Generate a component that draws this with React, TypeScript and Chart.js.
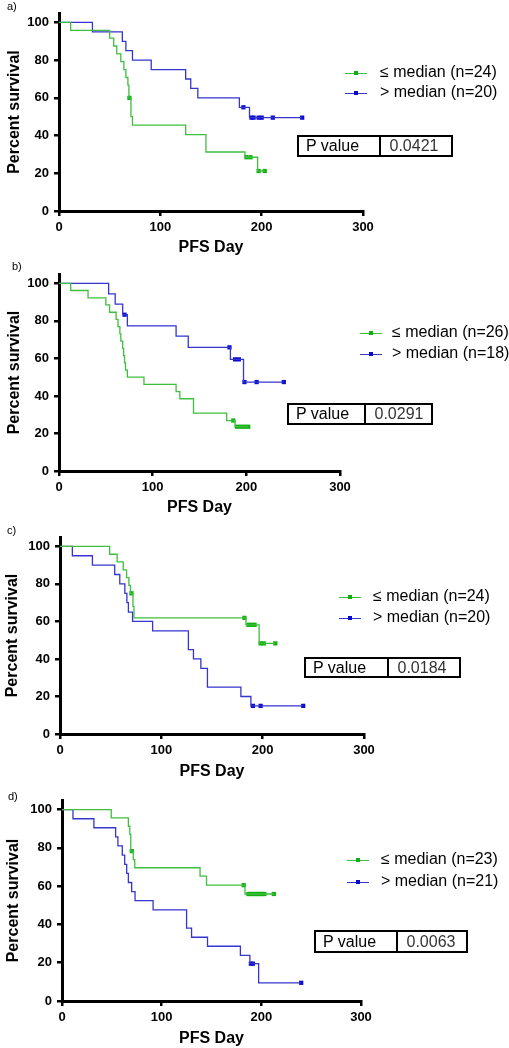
import React, { useEffect, useRef } from 'react';
import { Chart, registerables } from 'chart.js';

Chart.register(...registerables);

const FONT = "'Liberation Sans', Arial, Helvetica, sans-serif";

// ---------- tick labels ----------
const X_TICKS = [0, 100, 200, 300];
const Y_TICKS = [0, 20, 40, 60, 80, 100];

// ---------- Panel a ----------
const A_LOW_T = [0, 11.5, 50, 54, 57, 61, 64, 66, 68, 69, 71, 72.5, 125, 145, 183.5, 196, 203];
const A_LOW_S = [100, 95.8, 91.7, 87.5, 83.3, 79.2, 75, 70.8, 66.7, 60, 50, 45.5, 40.5, 31.3, 28.5, 21.2, 21.2];
const A_LOW_CENS_T = [69.5, 185, 189, 197, 203];
const A_LOW_CENS_S = [60, 28.5, 28.5, 21.2, 21.2];
const A_HIGH_T = [0, 33, 62.5, 66, 72.5, 91, 125, 130, 137, 178, 188, 240];
const A_HIGH_S = [100, 95, 90, 85, 80, 75, 70, 65, 60, 55, 49.5, 49.5];
const A_HIGH_CENS_T = [182, 190, 192, 197, 200, 211, 240];
const A_HIGH_CENS_S = [55, 49.5, 49.5, 49.5, 49.5, 49.5, 49.5];

// ---------- Panel b ----------
const B_LOW_T = [0, 12.5, 31, 50, 54, 61, 63, 65, 66, 68, 69, 70, 71, 73, 90.7, 125, 129, 143.6, 179, 188, 202];
const B_LOW_S = [100, 96.2, 92.3, 88.5, 84.6, 80.8, 76.9, 73.1, 69.2, 65.4, 61.5, 57.7, 53.8, 50, 46.2, 42.3, 38.5, 30.8, 26.9, 23.6, 23.6];
const B_LOW_CENS_T = [186, 190, 194, 198, 202];
const B_LOW_CENS_S = [26.9, 23.6, 23.6, 23.6, 23.6];
const B_HIGH_T = [0, 53, 60, 68, 73, 125, 138, 183, 197, 240];
const B_HIGH_S = [100, 94.4, 88.9, 83.3, 77.4, 71.9, 65.9, 59.5, 47.4, 47.4];
const B_HIGH_CENS_T = [70, 182, 188, 192, 198, 211, 240];
const B_HIGH_CENS_S = [83.3, 65.9, 59.5, 59.5, 47.4, 47.4, 47.4];

// ---------- Panel c ----------
const C_LOW_T = [0, 49, 56.4, 62.4, 65.7, 68, 69.5, 72, 73, 183.5, 196.5, 212.5];
const C_LOW_S = [100, 95.8, 91.7, 87.5, 83.3, 79.2, 75, 68, 61.9, 58.2, 48.3, 48.3];
const C_LOW_CENS_T = [70.5, 182, 186, 189, 192, 198, 201, 212.5];
const C_LOW_CENS_S = [75, 61.9, 58.2, 58.2, 58.2, 48.3, 48.3, 48.3];
const C_HIGH_T = [0, 12.2, 32, 54, 59, 64, 66, 67.5, 71.6, 91.4, 126.7, 131.7, 139, 145.5, 178.5, 188.4, 240];
const C_HIGH_S = [100, 95, 90, 85, 80, 75, 70, 65, 60, 55, 45, 40, 35, 25, 20, 15, 15];
const C_HIGH_CENS_T = [190.4, 198, 240];
const C_HIGH_CENS_S = [15, 15, 15];

// ---------- Panel d ----------
const D_LOW_T = [0, 49.4, 66.6, 68, 69, 71.5, 73, 138.5, 145, 183.6, 213];
const D_LOW_S = [100, 95.7, 91.3, 87, 78.3, 73.9, 69.6, 65.2, 60.5, 55.9, 55.9];
const D_LOW_CENS_T = [70, 182.3, 187, 189, 191, 193, 195, 197, 199, 201, 203, 212.5];
const D_LOW_CENS_S = [78.3, 60.5, 55.9, 55.9, 55.9, 55.9, 55.9, 55.9, 55.9, 55.9, 55.9, 55.9];
const D_HIGH_T = [0, 11, 32, 53.8, 56.1, 60.5, 62.9, 64.9, 66.6, 69.9, 73.3, 91.4, 125, 130, 146, 179, 188.5, 197.3, 240];
const D_HIGH_S = [100, 95.2, 90.5, 85.7, 81, 76.2, 71.4, 66.7, 61.9, 57.1, 52.4, 47.6, 38.1, 33.3, 28.6, 23.8, 19.5, 9.5, 9.5];
const D_HIGH_CENS_T = [189.5, 191.5, 240];
const D_HIGH_CENS_S = [19.5, 19.5, 9.5];

// ---------- texts ----------
const PANEL_LETTERS = ['a)', 'b)', 'c)', 'd)'];
const LOW_LABELS = ['≤ median (n=24)', '≤ median (n=26)', '≤ median (n=24)', '≤ median (n=23)'];
const HIGH_LABELS = ['> median (n=20)', '> median (n=18)', '> median (n=20)', '> median (n=21)'];
const P_VALUES = ['0.0421', '0.0291', '0.0184', '0.0063'];
const X_TITLE = 'PFS Day';
const Y_TITLE = 'Percent survival';

// ---------- colours ----------
const GREEN_LINE = '#3fbf3f';
const GREEN_MARK = '#10b010';
const BLUE_LINE = '#3535d0';
const BLUE_MARK = '#0a0ad0';

const SERIES = [
  { low: [A_LOW_T, A_LOW_S, A_LOW_CENS_T, A_LOW_CENS_S], high: [A_HIGH_T, A_HIGH_S, A_HIGH_CENS_T, A_HIGH_CENS_S] },
  { low: [B_LOW_T, B_LOW_S, B_LOW_CENS_T, B_LOW_CENS_S], high: [B_HIGH_T, B_HIGH_S, B_HIGH_CENS_T, B_HIGH_CENS_S] },
  { low: [C_LOW_T, C_LOW_S, C_LOW_CENS_T, C_LOW_CENS_S], high: [C_HIGH_T, C_HIGH_S, C_HIGH_CENS_T, C_HIGH_CENS_S] },
  { low: [D_LOW_T, D_LOW_S, D_LOW_CENS_T, D_LOW_CENS_S], high: [D_HIGH_T, D_HIGH_S, D_HIGH_CENS_T, D_HIGH_CENS_S] },
];

// ---------- layout (page pixels) ----------
const LAYOUT = [
  { T: 0, left: 59, right: 363, top: 13, bottom: 211, xTitle: 248, yTitleX: 15,
    letter: [7, 0], legend: { line: 345, text: 380, rows: [73, 93] }, pbox: [297, 135, 453, 157, 381] },
  { T: 258, left: 59, right: 340, top: 274, bottom: 471, xTitle: 508, yTitleX: 15,
    letter: [12, 260], legend: { line: 360, text: 392, rows: [333, 354] }, pbox: [287, 403, 433, 425, 366] },
  { T: 515, left: 60, right: 364, top: 537, bottom: 734, xTitle: 772, yTitleX: 12.5,
    letter: [7, 524], legend: { line: 339, text: 373, rows: [597, 618] }, pbox: [304, 657, 461, 678, 389] },
  { T: 780, left: 62, right: 361, top: 800, bottom: 1001, xTitle: 1039, yTitleX: 14,
    letter: [8, 790], legend: { line: 347, text: 381, rows: [860, 882] }, pbox: [314, 930, 468, 953, 398] },
];

const toPts = (t: number[], s: number[]) => t.map((x, i) => ({ x, y: s[i] }));

function KMPanel({ idx }: { idx: number }) {
  const ref = useRef<HTMLCanvasElement>(null);
  const L = LAYOUT[idx];
  const W = 509;
  const H = Math.ceil(L.xTitle + 11 - L.T);
  useEffect(() => {
    if (!ref.current) return;
    const S = SERIES[idx];
    const xAxisH = L.T + H - L.bottom;
    const titlePadBottom = L.T + H - L.xTitle - 9.6;
    const axisCommon = {
      grid: { drawOnChartArea: false, color: '#000', tickLength: 5, tickWidth: 2.5, lineWidth: 2.5 },
      border: { color: '#000', width: 3 },
    };
    const chart = new Chart(ref.current, {
      type: 'line',
      data: {
        datasets: [
          { data: toPts(S.low[0], S.low[1]), stepped: true, borderColor: GREEN_LINE, borderWidth: 1.3, pointRadius: 0, fill: false },
          { data: toPts(S.high[0], S.high[1]), stepped: true, borderColor: BLUE_LINE, borderWidth: 1.3, pointRadius: 0, fill: false },
          { data: toPts(S.low[2], S.low[3]), showLine: false, pointStyle: 'rect', pointRadius: 3, backgroundColor: GREEN_MARK, borderWidth: 0 },
          { data: toPts(S.high[2], S.high[3]), showLine: false, pointStyle: 'rect', pointRadius: 3, backgroundColor: BLUE_MARK, borderWidth: 0 },
        ],
      },
      options: {
        animation: false,
        responsive: false,
        maintainAspectRatio: false,
        layout: { padding: { left: 0, top: L.top - L.T, right: W - L.right, bottom: 0 } },
        plugins: { legend: { display: false }, tooltip: { enabled: false } },
        scales: {
          x: {
            type: 'linear', min: 0, max: 300,
            afterBuildTicks: (s: any) => { s.ticks = X_TICKS.map((v) => ({ value: v })); },
            afterFit: (s: any) => { s.height = xAxisH; },
            ticks: { color: '#000', font: { family: FONT, size: 13, weight: 'bold' }, padding: 4, maxRotation: 0, autoSkip: false },
            title: { display: true, text: X_TITLE, color: '#000', font: { family: FONT, size: 16, weight: 'bold' }, padding: { top: 0, bottom: titlePadBottom } },
            ...axisCommon,
          },
          y: {
            type: 'linear', min: 0, max: 105,
            afterBuildTicks: (s: any) => { s.ticks = Y_TICKS.map((v) => ({ value: v })); },
            afterFit: (s: any) => { s.width = L.left; },
            ticks: { color: '#000', font: { family: FONT, size: 13, weight: 'bold' }, padding: 5, autoSkip: false },
            title: { display: true, text: Y_TITLE, color: '#000', font: { family: FONT, size: 16, weight: 'bold' }, padding: { top: L.yTitleX - 9.6, bottom: 0 } },
            ...axisCommon,
          },
        },
      } as any,
    });
    return () => chart.destroy();
  }, [idx]);

  const lg = L.legend;
  const [bx0, by0, bx1, by1, bdiv] = L.pbox;
  const legendRow = (row: number, color: string, mark: string, text: string) => (
    <div key={text + row} style={{ position: 'absolute', left: lg.line, top: row - 10, height: 20, width: 200 }}>
      <div style={{ position: 'absolute', left: 0, top: 9.5, width: 22, height: 1.3, background: color }} />
      <div style={{ position: 'absolute', left: 9, top: 8, width: 4, height: 4, background: mark }} />
      <div style={{ position: 'absolute', left: lg.text - lg.line, top: 0, lineHeight: '20px', font: `16px ${FONT}`, color: '#000', whiteSpace: 'nowrap' }}>{text}</div>
    </div>
  );

  return (
    <>
      <canvas ref={ref} width={W} height={H} style={{ position: 'absolute', left: 0, top: L.T, width: W, height: H }} />
      <div style={{ position: 'absolute', left: L.letter[0], top: L.letter[1], font: `11px ${FONT}`, lineHeight: '13px', color: '#000' }}>{PANEL_LETTERS[idx]}</div>
      {legendRow(lg.rows[0], GREEN_LINE, GREEN_MARK, LOW_LABELS[idx])}
      {legendRow(lg.rows[1], BLUE_LINE, BLUE_MARK, HIGH_LABELS[idx])}
      <div style={{ position: 'absolute', left: bx0, top: by0, width: bx1 - bx0, height: by1 - by0, border: '2.5px solid #000', boxSizing: 'border-box', display: 'flex', font: `16px ${FONT}` }}>
        <div style={{ width: bdiv - bx0 - 2.5, boxSizing: 'border-box', borderRight: '2.5px solid #000', paddingLeft: 7, display: 'flex', alignItems: 'center', color: '#000', whiteSpace: 'nowrap' }}>P value</div>
        <div style={{ flex: 1, paddingLeft: 9, display: 'flex', alignItems: 'center', color: '#333', whiteSpace: 'nowrap' }}>{P_VALUES[idx]}</div>
      </div>
    </>
  );
}

export default function App() {
  return (
    <div style={{ position: 'absolute', left: 0, top: 0, width: 509, height: 1048, background: '#fff', overflow: 'hidden' }}>
      {[0, 1, 2, 3].map((i) => <KMPanel key={i} idx={i} />)}
    </div>
  );
}
